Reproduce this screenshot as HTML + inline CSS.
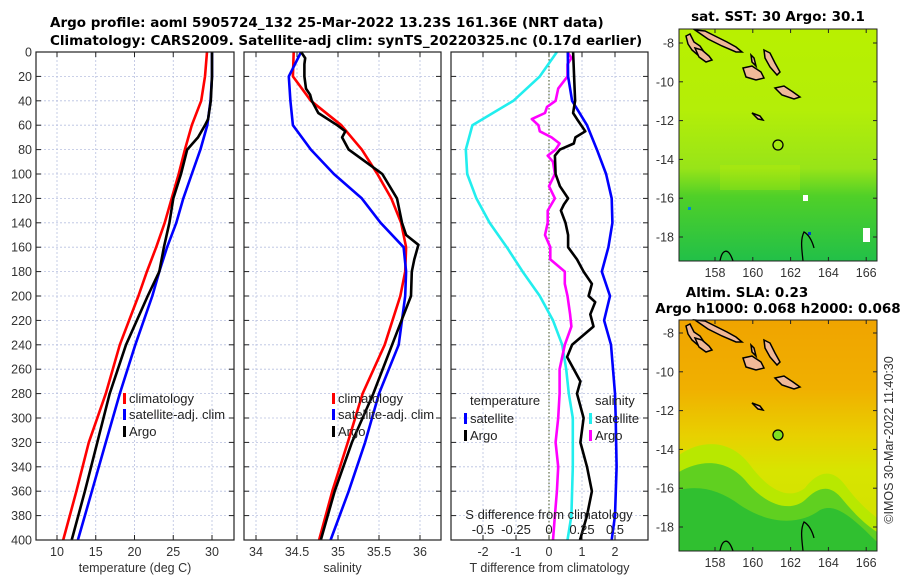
<!DOCTYPE html>
<html><head><meta charset="utf-8"><style>
body{margin:0;background:#fff;}
svg{display:block;font-family:"Liberation Sans","DejaVu Sans",sans-serif;}
.tk{font-size:12.5px;fill:#333;}
.tt{font-size:13.5px;font-weight:bold;fill:#000;font-family:"DejaVu Sans","Liberation Sans",sans-serif;}
.lg{font-size:13px;fill:#222;}
.grid{stroke:#b8c0e0;stroke-width:0.8;stroke-dasharray:2,2;}
</style></head><body>
<svg id="chart" width="900" height="580" viewBox="0 0 900 580">
<text class="tt" x="50" y="27">Argo profile: aoml 5905724_132 25-Mar-2022 13.23S 161.36E (NRT data)</text>
<text class="tt" x="50" y="45">Climatology: CARS2009. Satellite-adj clim: synTS_20220325.nc (0.17d earlier)</text>
<g id="g1"></g>
<g id="g2"></g>
<g id="g3"></g>

<defs>
<linearGradient id="sstg" x1="0" y1="0" x2="0" y2="1">
<stop offset="0" stop-color="#b8f000"/><stop offset="0.35" stop-color="#b4ee08"/><stop offset="0.6" stop-color="#98e418"/><stop offset="0.72" stop-color="#50d028"/><stop offset="1" stop-color="#22c048"/></linearGradient>
<linearGradient id="slag" x1="0" y1="0" x2="0" y2="1">
<stop offset="0" stop-color="#f0a400"/><stop offset="0.3" stop-color="#f0b000"/><stop offset="0.5" stop-color="#e8d000"/><stop offset="0.65" stop-color="#d8e400"/><stop offset="1" stop-color="#d0e000"/></linearGradient>
</defs>
<g>
<text class="tt" x="778" y="21" text-anchor="middle">sat. SST: 30 Argo: 30.1</text>
<rect x="679" y="29" width="198" height="232" fill="url(#sstg)"/>
<rect x="720" y="165" width="80" height="25" fill="#c8f000" opacity="0.25"/>
<rect x="803" y="195" width="5" height="6" fill="#fff"/><rect x="863" y="228" width="7" height="14" fill="#fff"/><rect x="808" y="232" width="3" height="3" fill="#0040d0"/><rect x="688" y="207" width="3" height="3" fill="#0080e0"/>
<g class="isl1"></g>
<circle cx="778" cy="145" r="5" fill="none" stroke="#000" stroke-width="1.3"/>
<rect x="679" y="29" width="198" height="232" fill="none" stroke="#222" stroke-width="1"/>
</g>
<g>
<text class="tt" x="747" y="297" text-anchor="middle">Altim. SLA: 0.23</text>
<text class="tt" x="778" y="313" text-anchor="middle">Argo h1000: 0.068 h2000: 0.068</text>
<rect x="679" y="320" width="198" height="231" fill="url(#slag)"/>
<path d="M679 455 C700 440 730 438 750 465 C770 492 790 500 805 488 C815 475 830 465 845 485 C860 505 870 512 877 518 L877 551 L679 551 Z" fill="#b8e800"/>
<path d="M679 472 C700 460 725 458 745 480 C765 505 790 513 805 500 C818 487 830 483 843 500 C858 518 868 526 877 532 L877 551 L679 551 Z" fill="#60d020"/>
<path d="M679 490 C700 485 720 490 740 505 C770 525 800 525 820 510 C835 503 850 515 877 542 L877 551 L679 551 Z" fill="#30c030"/>
<g class="isl2"></g>
<circle cx="778" cy="435" r="5" fill="#80e020" stroke="#000" stroke-width="1.3"/>
<rect x="679" y="320" width="198" height="231" fill="none" stroke="#222" stroke-width="1"/>
</g>
<text class="tk" transform="translate(893,440) rotate(-90)" text-anchor="middle">©IMOS 30-Mar-2022 11:40:30</text>
</svg>
<script>
// ---- data ----
const depthSmooth = [0,20,40,60,80,100,120,140,160,180,200,240,280,320,360,400];
const tempClim    = [29.35,29.1,28.6,27.4,26.5,25.7,24.8,23.9,22.8,21.6,20.5,18.1,16.3,14.1,12.5,10.8];
const tempSat     = [30.0,30.0,29.8,29.4,28.5,27.4,26.3,25.4,24.2,23.2,22.3,20.1,18.1,16.3,14.5,12.7];
const depthArgoT  = [0,20,40,55,60,70,80,100,120,140,160,180,200,240,280,320,360,400];
const tempArgo    = [30.0,30.0,29.85,29.5,29.1,28.2,26.8,26.0,25.0,24.5,23.8,23.2,21.7,18.9,16.8,15.2,13.6,11.9];
const salClim     = [34.46,34.45,34.67,35.04,35.29,35.48,35.65,35.77,35.83,35.82,35.76,35.57,35.3,35.12,34.93,34.77];
const salSat      = [34.55,34.4,34.42,34.45,34.67,34.95,35.29,35.52,35.8,35.83,35.82,35.74,35.5,35.33,35.13,34.91];
const depthArgoS  = [0,5,10,20,30,35,40,50,60,65,70,80,100,120,140,150,158,170,180,200,240,280,320,360,400];
const salArgo     = [34.55,34.6,34.59,34.59,34.61,34.66,34.68,34.76,34.99,35.09,35.05,35.13,35.54,35.72,35.78,35.83,35.98,35.93,35.9,35.89,35.66,35.43,35.17,34.96,34.79];
const depthDiff   = [0,20,40,60,80,100,120,140,160,180,200,220,240,260,280,300,340,380,400];
const dTempSat    = [0.57,0.58,0.70,1.15,1.45,1.73,1.9,1.92,1.8,1.6,1.85,1.67,1.88,1.94,2.0,2.02,2.05,2.0,1.9];
const dSalSat     = [0.06,-0.07,-0.27,-0.58,-0.63,-0.62,-0.55,-0.45,-0.32,-0.2,-0.07,0.03,0.1,0.13,0.15,0.18,0.18,0.17,0.14];
const depthDiffA  = [0,20,40,50,55,65,70,75,80,85,100,110,120,125,130,140,150,160,170,180,190,200,205,215,225,240,250,260,270,280,300,320,340,360,380,400];
const dTempArgo   = [0.73,0.76,0.79,0.73,0.85,1.1,0.8,0.75,0.33,0.18,0.2,0.33,0.58,0.45,0.36,0.5,0.58,0.58,0.85,1.05,1.3,1.2,1.4,1.25,1.35,0.7,0.55,0.75,0.95,0.85,1.05,0.95,1.15,1.3,1.15,0.94];
const depthDiffSA = [0,5,10,20,30,40,45,50,55,60,65,70,75,80,85,90,100,110,120,130,140,150,160,170,180,190,200,215,225,240,260,280,300,320,340,360,380,400];
const dSalArgo    = [0.14,0.17,0.14,0.14,0.07,0.05,-0.015,-0.03,-0.13,-0.08,-0.07,0.02,0.08,0.05,-0.01,0.03,0.045,0.0,0.045,-0.01,-0.01,-0.03,0.01,0.01,0.12,0.12,0.14,0.16,0.17,0.12,0.08,0.08,0.07,0.05,0.07,0.06,0.045,0.03];
const depthTicks  = [0,20,40,60,80,100,120,140,160,180,200,220,240,260,280,300,320,340,360,380,400];
const tempTicks   = [10,15,20,25,30];
const salTicks    = [34,34.5,35,35.5,36];
const dTTicks     = [-2,-1,0,1,2];
const dSTicks     = [-0.5,-0.25,0,0.25,0.5];
const dSTickLabels= ["-0.5","-0.25","0","0.25","0.5"];

// ---- scales ----
const yD = d => 52 + d*1.22;
const xT = t => 57 + (t-10)*7.75;
const xS = s => 256 + (s-34)*82;
const xDT = v => 549 + v*33;
const xDS = v => 549 + v*132;
const NS = "http://www.w3.org/2000/svg";
function mk(tag, attrs, parent, txt){
  const e = document.createElementNS(NS, tag);
  for (const k in attrs) e.setAttribute(k, attrs[k]);
  if (txt !== undefined) e.textContent = txt;
  parent.appendChild(e);
  return e;
}
function panel(g, x0, x1, xs, ticks, labels, xlabel, name){
  for (const d of depthTicks){
    const y = yD(d);
    mk('line',{x1:x0,x2:x1,y1:y,y2:y,class:'grid'},g);
    mk('line',{x1:x0,x2:x0+5,y1:y,y2:y,stroke:'#222'},g);
    mk('line',{x1:x1-5,x2:x1,y1:y,y2:y,stroke:'#222'},g);
    if (name==='temp'){
      const t = mk('text',{x:x0-4,y:y+4.5,class:'tk','text-anchor':'end'},g,String(d));
      
      
    }
  }
  ticks.forEach((v,i)=>{
    const x = xs(v);
    mk('line',{x1:x,x2:x,y1:52,y2:540,class:'grid'},g);
    mk('line',{x1:x,x2:x,y1:540,y2:535,stroke:'#222'},g);
    mk('line',{x1:x,x2:x,y1:52,y2:57,stroke:'#222'},g);
    const t = mk('text',{x:x,y:556,class:'tk','text-anchor':'middle'},g,labels[i]);
    
    
  });
  const xl = mk('text',{x:(x0+x1)/2,y:572,class:'tk','text-anchor':'middle'},g,xlabel);
  
  
}
function line(g, xs, vals, depths, color, name){
  const pts = vals.map((v,i)=>xs(v).toFixed(1)+','+yD(depths[i]).toFixed(1)).join(' ');
  const p = mk('polyline',{points:pts,fill:'none',stroke:color,'stroke-width':2.6,'stroke-linejoin':'round'},g);
  
  
}
function frame(g,x0,x1){ mk('rect',{x:x0,y:52,width:x1-x0,height:488,fill:'none',stroke:'#222','stroke-width':1.2},g); }
function legend(g, x, y, color, label){
  mk('rect',{x:x-6,y:y-9,width:3,height:11,fill:color},g);
  const t = mk('text',{x:x,y:y+1,class:'lg'},g,label);
  
  
}

const g1 = document.getElementById('g1');
panel(g1,36,234,xT,tempTicks,tempTicks.map(String),'temperature (deg C)','temp');
line(g1,xT,tempClim,depthSmooth,'#f00','temp-climatology-line');
line(g1,xT,tempSat,depthSmooth,'#00f','temp-satellite-line');
line(g1,xT,tempArgo,depthArgoT,'#000','temp-argo-line');
legend(g1,129,402,'#f00','climatology');legend(g1,129,418,'#00f','satellite-adj. clim');legend(g1,129,435,'#000','Argo');
frame(g1,36,234);

const g2 = document.getElementById('g2');
panel(g2,244,441,xS,salTicks,salTicks.map(String),'salinity','sal');
line(g2,xS,salClim,depthSmooth,'#f00','sal-climatology-line');
line(g2,xS,salSat,depthSmooth,'#00f','sal-satellite-line');
line(g2,xS,salArgo,depthArgoS,'#000','sal-argo-line');
legend(g2,338,402,'#f00','climatology');legend(g2,338,418,'#00f','satellite-adj. clim');legend(g2,338,435,'#000','Argo');
frame(g2,244,441);

const g3 = document.getElementById('g3');
panel(g3,451,648,xDT,dTTicks,dTTicks.map(String),'T difference from climatology','tdiff');
mk('line',{x1:549,x2:549,y1:52,y2:540,stroke:'#445522','stroke-width':1,'stroke-dasharray':'1.5,2'},g3);
line(g3,xDS,dSalSat,depthDiff,'#22eeee','sdiff-satellite-line');
line(g3,xDS,dSalArgo,depthDiffSA,'#f0f','sdiff-argo-line');
line(g3,xDT,dTempSat,depthDiff,'#00f','tdiff-satellite-line');
line(g3,xDT,dTempArgo,depthDiffA,'#000','tdiff-argo-line');
const th = mk('text',{x:470,y:405,class:'lg'},g3,'temperature');


legend(g3,470,422,'#00f','satellite');legend(g3,470,439,'#000','Argo');
const sh = mk('text',{x:595,y:405,class:'lg'},g3,'salinity');


legend(g3,595,422,'#22eeee','satellite');legend(g3,595,439,'#f0f','Argo');
const sl = mk('text',{x:549,y:519,class:'lg','text-anchor':'middle'},g3,'S difference from climatology');


dSTicks.forEach((v,i)=>{
  const t = mk('text',{x:xDS(v),y:534,class:'lg','text-anchor':'middle'},g3,dSTickLabels[i]);
  
  
});
frame(g3,451,648);

// map axes
const lonTicks=[158,160,162,164,166];
const latTicks=[-8,-10,-12,-14,-16,-18];
const svg=document.getElementById('chart');
function mapAxes(yTop,yBot,lat8,latStep){
  lonTicks.forEach(l=>{
    const x=715+(l-158)*18.9;
    mk('line',{x1:x,x2:x,y1:yBot,y2:yBot-4,stroke:'#222'},svg);
    mk('line',{x1:x,x2:x,y1:yTop,y2:yTop+4,stroke:'#222'},svg);
    const t=mk('text',{x:x,y:yBot+16,class:'tk','text-anchor':'middle'},svg,String(l));
    
    
  });
  latTicks.forEach(l=>{
    const y=lat8+(-8-l)*latStep;
    mk('line',{x1:679,x2:683,y1:y,y2:y,stroke:'#222'},svg);
    mk('line',{x1:877,x2:873,y1:y,y2:y,stroke:'#222'},svg);
    const t=mk('text',{x:674,y:y+4.5,class:'tk','text-anchor':'end'},svg,String(l));
    
    
  });
}
mapAxes(29,261,43,19.4);
mapAxes(320,551,333,19.4);
function islands(g,dy){
  const polys=[
  "M686 36 L690 34 L694 42 L700 46 L704 52 L699 56 L692 50 L688 44 Z",
  "M695 48 L702 50 L709 56 L712 60 L706 62 L699 57 Z",
  "M695 30 L705 31 L715 36 L727 42 L736 47 L742 52 L736 52 L722 46 L708 39 Z",
  "M743 68 L752 66 L761 72 L764 78 L756 80 L746 77 Z",
  "M764 50 L770 53 L775 63 L780 72 L777 75 L770 67 L765 58 Z",
  "M775 88 L784 86 L793 92 L800 97 L794 99 L782 95 Z",
  "M751 55 L754 58 L756 66 L752 62 Z",
  "M752 113 L760 116 L763 120 L758 119 Z"];
  polys.forEach(d=>mk('path',{d:d,transform:'translate(0,'+dy+')',fill:'#f0b898',stroke:'#000','stroke-width':1.5},g));
  mk('path',{d:'M720 261 C722 250 728 246 733 261 M803 261 C802 250 800 240 804 232 C808 234 812 240 814 248',transform:'translate(0,'+dy+')',fill:'none',stroke:'#000','stroke-width':1.3},g);
}
islands(document.querySelector('.isl1'),0);
islands(document.querySelector('.isl2'),290);
</script>
</body></html>
